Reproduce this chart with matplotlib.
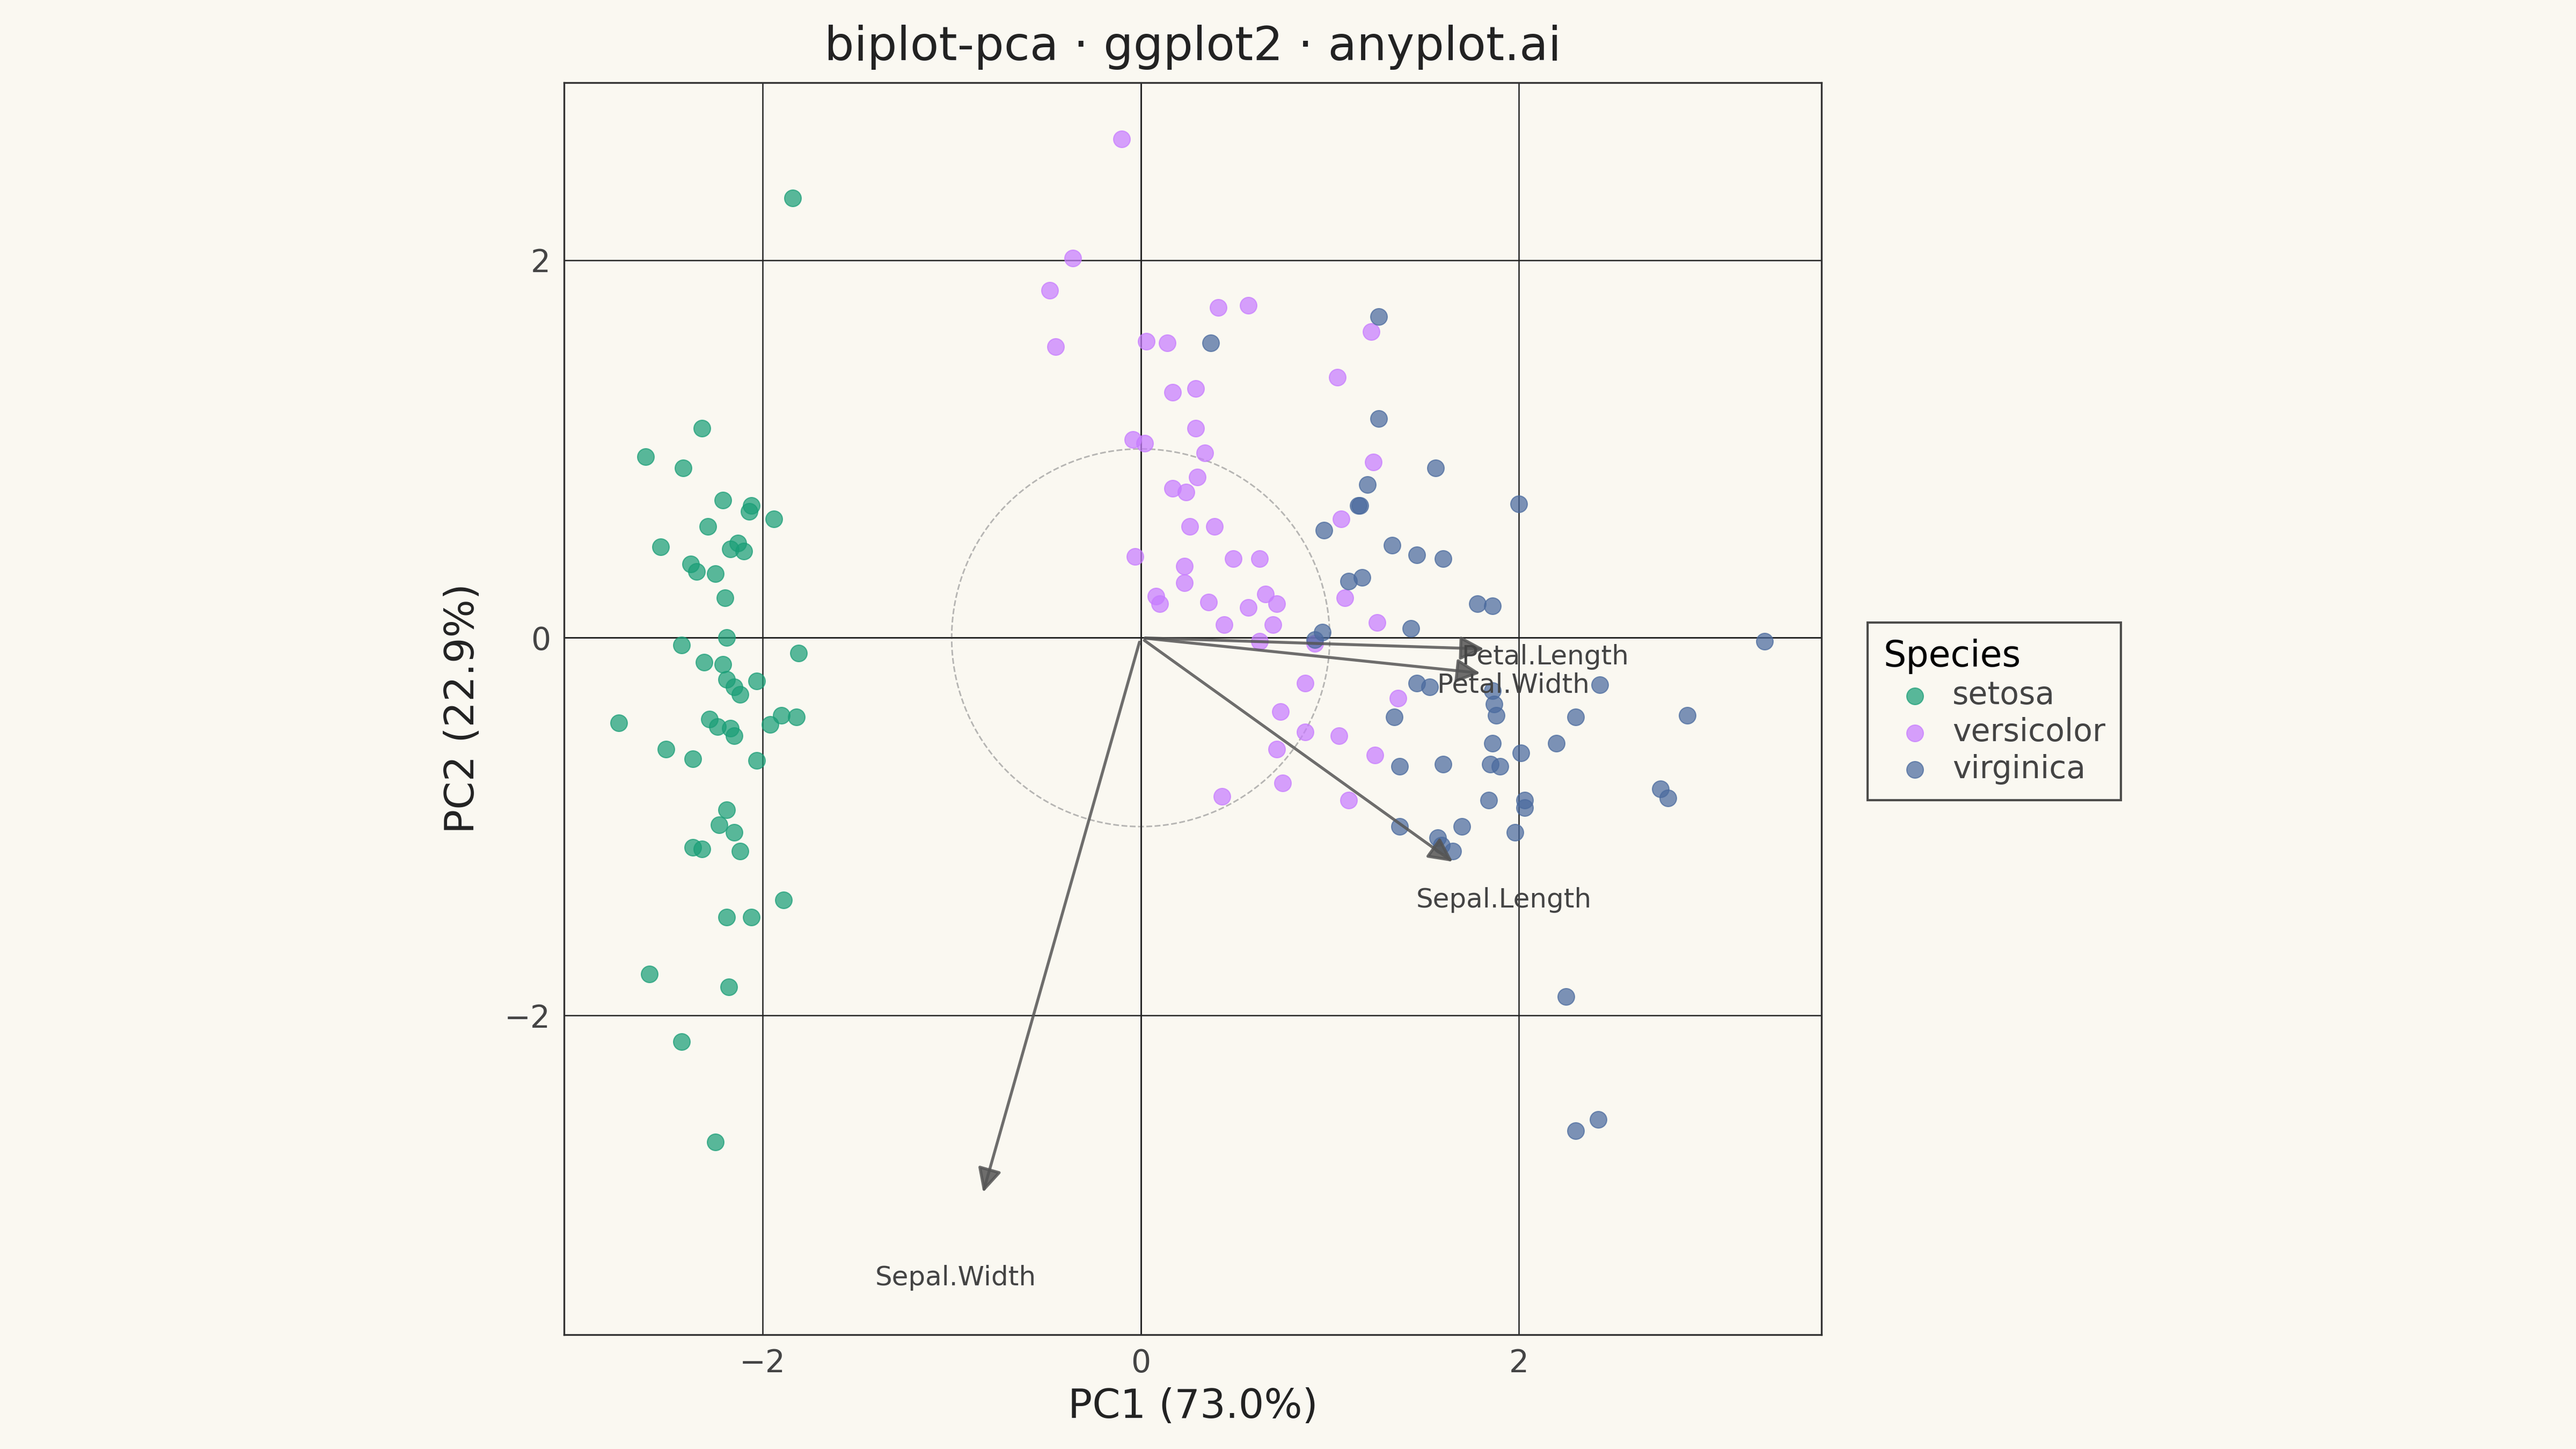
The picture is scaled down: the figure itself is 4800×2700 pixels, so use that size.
import numpy as np
import matplotlib.pyplot as plt

bg = '#FAF8F1'

# PCA scores (PC1, PC2)
setosa = [(-1.84,2.33),(-2.62,0.96),(-2.32,1.11),(-2.42,0.90),(-2.54,0.48),(-2.21,0.73),(-2.06,0.70),
          (-2.07,0.67),(-1.94,0.63),(-2.29,0.59),(-2.13,0.50),(-2.17,0.47),(-2.10,0.46),(-2.38,0.39),
          (-2.35,0.35),(-2.25,0.34),(-2.20,0.21),(-2.19,0.0),(-2.43,-0.04),(-1.81,-0.08),(-2.31,-0.13),
          (-2.21,-0.14),(-2.03,-0.23),(-2.19,-0.22),(-2.15,-0.26),(-2.12,-0.30),(-2.76,-0.45),(-2.28,-0.43),
          (-2.24,-0.47),(-2.17,-0.48),(-1.96,-0.46),(-1.90,-0.41),(-1.82,-0.42),(-2.15,-0.52),(-2.51,-0.59),
          (-2.37,-0.64),(-2.03,-0.65),(-2.19,-0.91),(-2.23,-0.99),(-2.15,-1.03),(-2.37,-1.11),(-2.32,-1.12),
          (-2.12,-1.13),(-2.19,-1.48),(-2.06,-1.48),(-1.89,-1.39),(-2.60,-1.78),(-2.18,-1.85),(-2.43,-2.14),
          (-2.25,-2.67)]
versicolor = [(-0.10,2.64),(-0.36,2.01),(-0.48,1.84),(-0.45,1.54),(0.41,1.75),(0.57,1.76),(0.03,1.57),
              (0.14,1.56),(0.17,1.30),(0.29,1.32),(1.04,1.38),(1.22,1.62),(-0.04,1.05),(0.02,1.03),
              (0.29,1.11),(0.34,0.98),(1.23,0.93),(0.30,0.85),(0.17,0.79),(0.24,0.77),(0.26,0.59),
              (0.39,0.59),(1.06,0.63),(-0.03,0.43),(0.23,0.38),(0.49,0.42),(0.63,0.42),(0.23,0.29),
              (0.08,0.22),(0.10,0.18),(0.36,0.19),(0.66,0.23),(0.72,0.18),(0.57,0.16),(0.44,0.07),
              (0.70,0.07),(1.08,0.21),(1.25,0.08),(0.63,-0.02),(0.92,-0.03),(0.87,-0.24),(1.36,-0.32),
              (0.74,-0.39),(0.87,-0.50),(1.05,-0.52),(0.72,-0.59),(1.24,-0.62),(0.75,-0.77),(0.43,-0.84),
              (1.10,-0.86)]
virginica = [(1.26,1.70),(0.37,1.56),(1.26,1.16),(1.56,0.90),(1.20,0.81),(1.16,0.70),(1.15,0.70),
             (2.00,0.71),(0.97,0.57),(1.33,0.49),(1.46,0.44),(1.60,0.42),(1.17,0.32),(1.10,0.30),
             (1.78,0.18),(1.86,0.17),(1.43,0.05),(0.96,0.03),(0.92,-0.01),(3.30,-0.02),(2.43,-0.25),
             (1.46,-0.24),(1.53,-0.26),(1.86,-0.28),(1.87,-0.35),(1.88,-0.41),(1.34,-0.42),(2.30,-0.42),
             (2.89,-0.41),(1.86,-0.56),(2.20,-0.56),(2.01,-0.61),(1.37,-0.68),(1.60,-0.67),(1.85,-0.67),
             (1.90,-0.68),(2.75,-0.80),(2.79,-0.85),(1.84,-0.86),(2.03,-0.86),(2.03,-0.90),(1.37,-1.00),
             (1.70,-1.00),(1.98,-1.03),(1.57,-1.06),(1.59,-1.10),(2.25,-1.90),(2.42,-2.55),(2.30,-2.61),
             (1.65,-1.13)]

groups = {'setosa': (setosa, '#1A9E77'),
          'versicolor': (versicolor, '#C77CFF'),
          'virginica': (virginica, '#4A6A9E')}

# loading arrows: end point, label position
loadings = {'Petal.Length': ((1.84, -0.06), (2.14, -0.10)),
            'Petal.Width': ((1.82, -0.19), (1.97, -0.25)),
            'Sepal.Length': ((1.67, -1.20), (1.92, -1.39)),
            'Sepal.Width': ((-0.84, -2.96), (-0.98, -3.39))}

fig = plt.figure(figsize=(16, 9), dpi=300, facecolor=bg)
ax = fig.add_axes([0.219, 0.079, 0.488, 0.864], facecolor=bg)

ax.axhline(0, color='#222222', lw=0.6, zorder=1)
ax.axvline(0, color='#222222', lw=0.6, zorder=1)
ax.grid(True, color='#222222', lw=0.6, zorder=0)

t = np.linspace(0, 2 * np.pi, 300)
ax.plot(np.cos(t), np.sin(t), ls='--', color='#999999', lw=0.7, alpha=0.7, zorder=1)

for name, (pts, col) in groups.items():
    pts = np.array(pts)
    ax.scatter(pts[:, 0], pts[:, 1], s=55, color=col, alpha=0.72, edgecolors=col,
               linewidths=0.5, label=name, zorder=3)

for name, (end, lab) in loadings.items():
    ax.annotate('', xy=end, xytext=(0, 0),
                arrowprops=dict(arrowstyle='-|>,head_length=0.9,head_width=0.45',
                                color='#555555', lw=1.3, alpha=0.85), zorder=4)
    ax.text(lab[0], lab[1], name, ha='center', va='center', fontsize=12, color='#444444', zorder=5)

ax.set_xlim(-3.05, 3.60)
ax.set_ylim(-3.69, 2.94)
ax.set_xticks([-2, 0, 2])
ax.set_yticks([-2, 0, 2])
ax.tick_params(length=0, labelsize=14, labelcolor='#444444', pad=6)
for s in ax.spines.values():
    s.set_color('#333333')
    s.set_linewidth(0.8)

ax.set_xlabel('PC1 (73.0%)', fontsize=18, color='#222222', labelpad=4)
ax.set_ylabel('PC2 (22.9%)', fontsize=18, color='#222222', labelpad=10)
ax.set_title('biplot-pca · ggplot2 · anyplot.ai', fontsize=21, color='#222222', pad=10)

leg = fig.legend(loc='upper left', bbox_to_anchor=(0.719, 0.581), title='Species',
                 fontsize=14, title_fontsize=16, frameon=True, fancybox=False,
                 edgecolor='#222222', facecolor=bg, handletextpad=0.2, borderpad=0.5,
                 labelspacing=0.2, markerscale=1.0)
leg._legend_box.align = 'left'
for tx in leg.get_texts():
    tx.set_color('#444444')

fig.savefig('out.png', dpi=300, facecolor=bg)
